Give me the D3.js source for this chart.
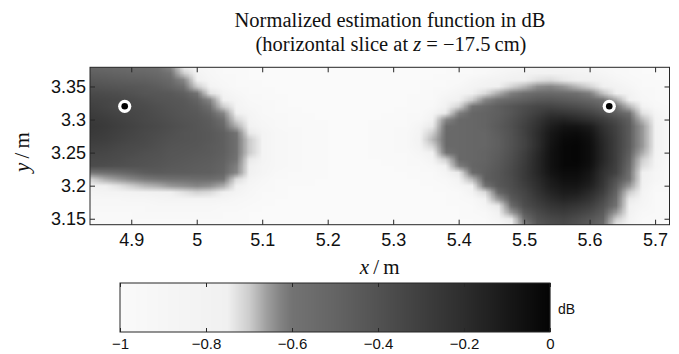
<!DOCTYPE html>
<html><head><meta charset="utf-8">
<script src="https://cdn.jsdelivr.net/npm/d3@7"></script>
<style>body{margin:0;background:#fff} svg{display:block}</style>
</head><body>
<svg id="c" width="679" height="354"></svg>
<script>
// ---- data ----
const xCells = [4.84,4.86,4.88,4.90,4.92,4.94,4.96,4.98,5.00,5.02,5.04,5.06,5.08,5.10,5.12,5.14,5.16,5.18,5.20,5.22,5.24,5.26,5.28,5.30,5.32,5.34,5.36,5.38,5.40,5.42,5.44,5.46,5.48,5.50,5.52,5.54,5.56,5.58,5.60,5.62,5.64,5.66,5.68,5.70,5.72];
const yCells = [3.38,3.37,3.36,3.35,3.34,3.33,3.32,3.31,3.30,3.29,3.28,3.27,3.26,3.25,3.24,3.23,3.22,3.21,3.20,3.19,3.18,3.17,3.16,3.15,3.14];
// normalized estimation function (dB), rows follow yCells, columns follow xCells
const dB = [
[-.52,-.53,-.54,-.55,-.56,-.58,-.63,-.77,-.9,-.95,-.97,-.98,-.99,-.99,-.99,-.99, -.99,-.99,-.99,-.99,-.99,-.99,-.99,-.99, -.99,-.99,-.99,-.99,-.98,-.98,-.98,-.96,-.93,-.9,-.87,-.86,-.87,-.89,-.92,-.95,-.97,-.98,-.99,-.99,-.99],
[-.48,-.49,-.5,-.51,-.52,-.54,-.6,-.7,-.85,-.93,-.97,-.98,-.99,-.99,-.99,-.99, -.99,-.99,-.99,-.99,-.99,-.99,-.99,-.99, -.99,-.99,-.99,-.99,-.98,-.98,-.95,-.89,-.85,-.83,-.8,-.79,-.8,-.83,-.85,-.9,-.96,-.98,-.99,-.99,-.99],
[-.44,-.45,-.46,-.47,-.48,-.5,-.54,-.63,-.77,-.9,-.95,-.98,-.99,-.99,-.99,-.99, -.99,-.99,-.99,-.99,-.99,-.99,-.99,-.99, -.99,-.99,-.99,-.98,-.97,-.91,-.86,-.82,-.78,-.76,-.73,-.72,-.74,-.76,-.78,-.83,-.89,-.96,-.98,-.99,-.99],
[-.4,-.41,-.42,-.43,-.44,-.46,-.5,-.58,-.7,-.85,-.93,-.97,-.98,-.99,-.99,-.99, -.99,-.99,-.99,-.99,-.99,-.99,-.99,-.99, -.99,-.99,-.98,-.97,-.92,-.84,-.79,-.75,-.71,-.68,-.64,-.63,-.65,-.68,-.71,-.76,-.82,-.9,-.97,-.98,-.99],
[-.36,-.37,-.38,-.4,-.42,-.43,-.44,-.48,-.6,-.73,-.85,-.93,-.97,-.98,-.99,-.99, -.99,-.99,-.99,-.99,-.99,-.99,-.99,-.99, -.99,-.99,-.98,-.93,-.85,-.77,-.72,-.67,-.62,-.58,-.54,-.53,-.55,-.58,-.62,-.69,-.75,-.83,-.95,-.98,-.99],
[-.33,-.34,-.35,-.37,-.39,-.41,-.42,-.44,-.5,-.63,-.77,-.88,-.94,-.97,-.98,-.99, -.99,-.99,-.99,-.99,-.99,-.99,-.99,-.99, -.99,-.98,-.97,-.86,-.78,-.7,-.63,-.57,-.52,-.48,-.44,-.43,-.45,-.48,-.52,-.59,-.67,-.78,-.92,-.97,-.99],
[-.31,-.33,-.36,-.36,-.37,-.39,-.41,-.43,-.46,-.58,-.7,-.85,-.92,-.96,-.98,-.99, -.99,-.99,-.99,-.99,-.99,-.99,-.99,-.99, -.99,-.98,-.95,-.79,-.71,-.6,-.53,-.47,-.42,-.38,-.34,-.33,-.35,-.38,-.42,-.49,-.57,-.68,-.82,-.96,-.98],
[-.29,-.31,-.33,-.34,-.36,-.38,-.4,-.42,-.44,-.5,-.63,-.77,-.88,-.94,-.97,-.98, -.99,-.99,-.99,-.99,-.99,-.99,-.99,-.99, -.98,-.97,-.88,-.74,-.62,-.52,-.5,-.47,-.42,-.36,-.3,-.24,-.25,-.28,-.32,-.39,-.47,-.58,-.73,-.87,-.97],
[-.27,-.29,-.31,-.33,-.35,-.37,-.39,-.41,-.43,-.46,-.57,-.71,-.85,-.92,-.96,-.98, -.98,-.99,-.99,-.99,-.99,-.99,-.99,-.98, -.98,-.96,-.8,-.63,-.53,-.52,-.5,-.46,-.4,-.33,-.25,-.17,-.15,-.18,-.22,-.29,-.37,-.48,-.68,-.83,-.96],
[-.26,-.28,-.3,-.32,-.34,-.36,-.38,-.4,-.42,-.45,-.52,-.67,-.8,-.9,-.95,-.97, -.98,-.98,-.99,-.99,-.99,-.99,-.98,-.98, -.97,-.88,-.74,-.55,-.53,-.52,-.5,-.45,-.39,-.31,-.22,-.13,-.08,-.08,-.12,-.23,-.32,-.45,-.65,-.8,-.95],
[-.27,-.29,-.31,-.33,-.35,-.37,-.39,-.41,-.42,-.44,-.48,-.6,-.74,-.86,-.93,-.96, -.97,-.98,-.99,-.99,-.99,-.99,-.98,-.97, -.95,-.84,-.7,-.54,-.53,-.52,-.51,-.46,-.4,-.31,-.2,-.1,-.05,-.04,-.08,-.2,-.31,-.45,-.65,-.8,-.95],
[-.29,-.3,-.32,-.34,-.36,-.38,-.4,-.41,-.42,-.44,-.47,-.58,-.7,-.85,-.92,-.96, -.97,-.98,-.99,-.99,-.99,-.99,-.98,-.97, -.95,-.83,-.68,-.54,-.53,-.52,-.51,-.47,-.4,-.32,-.2,-.09,-.03,-.02,-.06,-.18,-.3,-.45,-.65,-.8,-.95],
[-.31,-.32,-.34,-.36,-.37,-.39,-.41,-.42,-.43,-.45,-.47,-.58,-.7,-.85,-.92,-.96, -.97,-.98,-.99,-.99,-.99,-.99,-.98,-.97, -.95,-.85,-.71,-.54,-.53,-.52,-.51,-.47,-.4,-.32,-.2,-.08,-.02,-.01,-.05,-.17,-.3,-.45,-.65,-.8,-.95],
[-.33,-.34,-.36,-.37,-.39,-.4,-.42,-.43,-.44,-.45,-.48,-.58,-.7,-.85,-.92,-.96, -.97,-.98,-.99,-.99,-.99,-.99,-.98,-.98, -.97,-.91,-.77,-.6,-.53,-.52,-.5,-.46,-.39,-.3,-.18,-.07,-.02,-.01,-.05,-.17,-.3,-.47,-.67,-.82,-.95],
[-.35,-.36,-.37,-.39,-.4,-.41,-.43,-.44,-.45,-.46,-.49,-.6,-.74,-.86,-.93,-.96, -.97,-.98,-.99,-.99,-.99,-.99,-.99,-.98, -.98,-.95,-.84,-.7,-.53,-.52,-.5,-.45,-.38,-.29,-.17,-.07,-.02,-.01,-.05,-.17,-.3,-.5,-.7,-.84,-.96],
[-.37,-.38,-.39,-.4,-.41,-.42,-.44,-.45,-.46,-.47,-.5,-.62,-.76,-.87,-.93,-.96, -.97,-.98,-.99,-.99,-.99,-.99,-.99,-.99, -.98,-.97,-.92,-.78,-.62,-.51,-.49,-.44,-.37,-.28,-.17,-.07,-.02,-.02,-.06,-.19,-.31,-.53,-.72,-.86,-.97],
[-.6,-.57,-.54,-.5,-.46,-.45,-.46,-.46,-.47,-.48,-.51,-.63,-.77,-.88,-.94,-.97, -.98,-.98,-.99,-.99,-.99,-.99,-.99,-.99, -.99,-.98,-.97,-.88,-.74,-.55,-.48,-.43,-.36,-.27,-.17,-.08,-.04,-.04,-.09,-.22,-.32,-.57,-.75,-.89,-.97],
[-.7,-.67,-.65,-.63,-.61,-.6,-.58,-.57,-.56,-.56,-.6,-.72,-.85,-.93,-.97,-.98, -.98,-.99,-.99,-.99,-.99,-.99,-.99,-.99, -.99,-.99,-.98,-.94,-.83,-.68,-.48,-.43,-.37,-.28,-.19,-.11,-.06,-.06,-.11,-.24,-.4,-.6,-.77,-.91,-.97],
[-.77,-.75,-.73,-.7,-.68,-.67,-.65,-.64,-.63,-.64,-.67,-.78,-.9,-.95,-.98,-.99, -.99,-.99,-.99,-.99,-.99,-.99,-.99,-.99, -.99,-.99,-.99,-.97,-.91,-.77,-.6,-.44,-.38,-.3,-.21,-.13,-.09,-.09,-.14,-.26,-.45,-.65,-.8,-.95,-.98],
[-.87,-.86,-.84,-.82,-.79,-.77,-.75,-.73,-.71,-.72,-.76,-.86,-.93,-.97,-.98,-.99, -.99,-.99,-.99,-.99,-.99,-.99,-.99,-.99, -.99,-.99,-.99,-.99,-.97,-.86,-.72,-.53,-.4,-.33,-.24,-.16,-.12,-.13,-.19,-.3,-.5,-.7,-.84,-.97,-.98],
[-.93,-.93,-.92,-.91,-.89,-.87,-.86,-.85,-.85,-.86,-.88,-.93,-.96,-.98,-.99,-.99, -.99,-.99,-.99,-.99,-.99,-.99,-.99,-.99, -.99,-.99,-.99,-.99,-.98,-.95,-.8,-.65,-.45,-.35,-.27,-.2,-.16,-.18,-.24,-.35,-.55,-.74,-.88,-.97,-.99],
[-.96,-.96,-.96,-.95,-.94,-.93,-.93,-.92,-.92,-.93,-.94,-.96,-.98,-.99,-.99,-.99, -.99,-.99,-.99,-.99,-.99,-.99,-.99,-.99, -.99,-.99,-.99,-.99,-.99,-.97,-.88,-.74,-.55,-.38,-.31,-.25,-.22,-.25,-.3,-.4,-.6,-.77,-.91,-.98,-.99],
[-.97,-.97,-.97,-.97,-.96,-.96,-.96,-.96,-.96,-.96,-.97,-.98,-.99,-.99,-.99,-.99, -.99,-.99,-.99,-.99,-.99,-.99,-.99,-.99, -.99,-.99,-.99,-.99,-.99,-.98,-.95,-.8,-.65,-.45,-.36,-.3,-.28,-.31,-.36,-.45,-.65,-.8,-.95,-.98,-.99],
[-.98,-.98,-.98,-.98,-.97,-.97,-.97,-.97,-.97,-.97,-.98,-.98,-.99,-.99,-.99,-.99, -.99,-.99,-.99,-.99,-.99,-.99,-.99,-.99, -.99,-.99,-.99,-.99,-.99,-.99,-.97,-.88,-.74,-.55,-.4,-.35,-.33,-.37,-.42,-.5,-.7,-.84,-.97,-.99,-.99],
[-.98,-.98,-.98,-.98,-.98,-.98,-.98,-.98,-.98,-.98,-.98,-.99,-.99,-.99,-.99,-.99, -.99,-.99,-.99,-.99,-.99,-.99,-.99,-.99, -.99,-.99,-.99,-.99,-.99,-.99,-.98,-.95,-.78,-.62,-.44,-.38,-.36,-.4,-.45,-.55,-.74,-.88,-.97,-.99,-.99]
];
const sensorX = [4.89, 5.63];
const sensorY = [3.32, 3.32];
const xTicks = [4.9,5,5.1,5.2,5.3,5.4,5.5,5.6,5.7];
const yTicks = [3.15,3.2,3.25,3.3,3.35];
const cbTicks = [-1,-0.8,-0.6,-0.4,-0.2,0];
// colormap (dB -> gray level)
const cmapStops = [-1,-0.75,-0.7,-0.66,-0.625,-0.6,-0.5,-0.4,-0.3,-0.2,-0.1,0];
const cmapGray  = [250,240,205,160,130,115,100,82,63,45,24,4];

const bad = dB.map((r,i)=>[i,r.length]).filter(d=>d[1]!==xCells.length);
if (bad.length || dB.length!==yCells.length) throw new Error("bad rows "+JSON.stringify(bad)+" n="+dB.length);

// ---- drawing ----
const svg = d3.select("#c");
const L=90, R=669.5, T=67.3, B=224.7;
const x = d3.scaleLinear().domain([4.837,5.722]).range([L,R]);
const y = d3.scaleLinear().domain([3.141,3.379]).range([B,T]);
const gscale = d3.scaleLinear().domain(cmapStops).range(cmapGray).clamp(true);
const color = v => { const g=Math.round(gscale(v)); return d3.rgb(g,g,g).toString(); };

const defs = svg.append("defs");
defs.append("clipPath").attr("id","clip").append("rect")
  .attr("x",L).attr("y",T).attr("width",R-L).attr("height",B-T);

// heat map: one image pixel per cell, displayed with smooth scaling
const nx=xCells.length, ny=yCells.length;
const cv = document.createElement("canvas");
cv.width = nx; cv.height = ny;
const ctx = cv.getContext("2d");
const img = ctx.createImageData(nx, ny);
dB.forEach((row,j)=>row.forEach((v,i)=>{
  const g = Math.round(gscale(v)), k = 4*(j*nx+i);
  img.data[k]=g; img.data[k+1]=g; img.data[k+2]=g; img.data[k+3]=255;
}));
ctx.putImageData(img,0,0);
const hx0 = x(xCells[0]-0.01), hx1 = x(xCells[nx-1]+0.01);
const hy0 = y(yCells[0]+0.005), hy1 = y(yCells[ny-1]-0.005);
svg.append("g").attr("clip-path","url(#clip)")
  .append("image").attr("href", cv.toDataURL())
  .attr("x",hx0).attr("y",hy0).attr("width",hx1-hx0).attr("height",hy1-hy0)
  .attr("preserveAspectRatio","none").style("image-rendering","auto");

// sensor markers
const gM = svg.append("g");
sensorX.forEach((sx,k)=>{
  gM.append("circle").attr("cx",x(sx)).attr("cy",y(sensorY[k])).attr("r",6.6).attr("fill","#fff");
  gM.append("circle").attr("cx",x(sx)).attr("cy",y(sensorY[k])).attr("r",3.3).attr("fill","#000");
});

// axes
const axCol="#262626";
function styleAxis(g, fs){
  g.select(".domain").remove();
  g.selectAll("line").attr("stroke",axCol);
  g.selectAll("text").attr("font-family","'Liberation Sans', Arial, sans-serif").attr("font-size",fs).attr("fill","#111");
}
const fmt = d=>String(d);
svg.append("g").attr("transform",`translate(0,${B})`)
  .call(d3.axisBottom(x).tickValues(xTicks).tickSizeInner(-5).tickSizeOuter(0).tickPadding(9).tickFormat(fmt))
  .call(g=>styleAxis(g,18));
svg.append("g").attr("transform",`translate(0,${T})`)
  .call(d3.axisTop(x).tickValues(xTicks).tickSizeInner(-5).tickSizeOuter(0).tickFormat(""))
  .call(g=>styleAxis(g,18));
svg.append("g").attr("transform",`translate(${L},0)`)
  .call(d3.axisLeft(y).tickValues(yTicks).tickSizeInner(-5).tickSizeOuter(0).tickPadding(4).tickFormat(fmt))
  .call(g=>styleAxis(g,18));
svg.append("g").attr("transform",`translate(${R},0)`)
  .call(d3.axisRight(y).tickValues(yTicks).tickSizeInner(-5).tickSizeOuter(0).tickFormat(""))
  .call(g=>styleAxis(g,18));
svg.append("rect").attr("x",L).attr("y",T).attr("width",R-L).attr("height",B-T)
  .attr("fill","none").attr("stroke",axCol).attr("stroke-width",1);

// titles and labels
const serif = "'Liberation Serif','Times New Roman',serif";
const t = svg.append("text").attr("text-anchor","middle").attr("font-family",serif).attr("font-size",20.5).attr("fill","#111");
t.append("tspan").attr("x",390).attr("y",27).text("Normalized estimation function in dB");
const t2 = t.append("tspan").attr("x",391).attr("y",51);
t2.append("tspan").text("(horizontal slice at ");
t2.append("tspan").attr("font-style","italic").text("z");
t2.append("tspan").text(" = \u221217.5\u2009cm)");

const xl = svg.append("text").attr("x",(L+R)/2).attr("y",274).attr("text-anchor","middle")
  .attr("font-family",serif).attr("font-size",21).attr("fill","#111");
xl.append("tspan").attr("font-style","italic").text("x");
xl.append("tspan").text("\u2009/\u2009m");
const yl = svg.append("text").attr("transform",`translate(29,${(T+B)/2+6}) rotate(-90)`).attr("text-anchor","middle")
  .attr("font-family",serif).attr("font-size",21).attr("fill","#111");
yl.append("tspan").attr("font-style","italic").text("y");
yl.append("tspan").text("\u2009/\u2009m");

// colorbar
const cL=120, cR=550, cT=283, cB=332;
const cb = d3.scaleLinear().domain([-1,0]).range([cL,cR]);
const steps = d3.range(cL, cR, 1);
svg.append("g").selectAll("rect").data(steps).join("rect")
  .attr("x",d=>d).attr("y",cT).attr("width",1.2).attr("height",cB-cT)
  .attr("fill",d=>color(cb.invert(d+0.5)));
svg.append("g").attr("transform",`translate(0,${cB})`)
  .call(d3.axisBottom(cb).tickValues(cbTicks).tickSizeInner(-4).tickSizeOuter(0).tickPadding(6).tickFormat(d3.format("~g")))
  .call(g=>styleAxis(g,15));
svg.append("g").attr("transform",`translate(0,${cT})`)
  .call(d3.axisTop(cb).tickValues(cbTicks).tickSizeInner(-4).tickSizeOuter(0).tickFormat(""))
  .call(g=>styleAxis(g,15));
svg.append("rect").attr("x",cL).attr("y",cT).attr("width",cR-cL).attr("height",cB-cT)
  .attr("fill","none").attr("stroke",axCol);
svg.append("text").attr("x",558).attr("y",314).attr("font-family","'Liberation Sans', Arial, sans-serif")
  .attr("font-size",14).attr("fill","#111").text("dB");
</script>
</body></html>
